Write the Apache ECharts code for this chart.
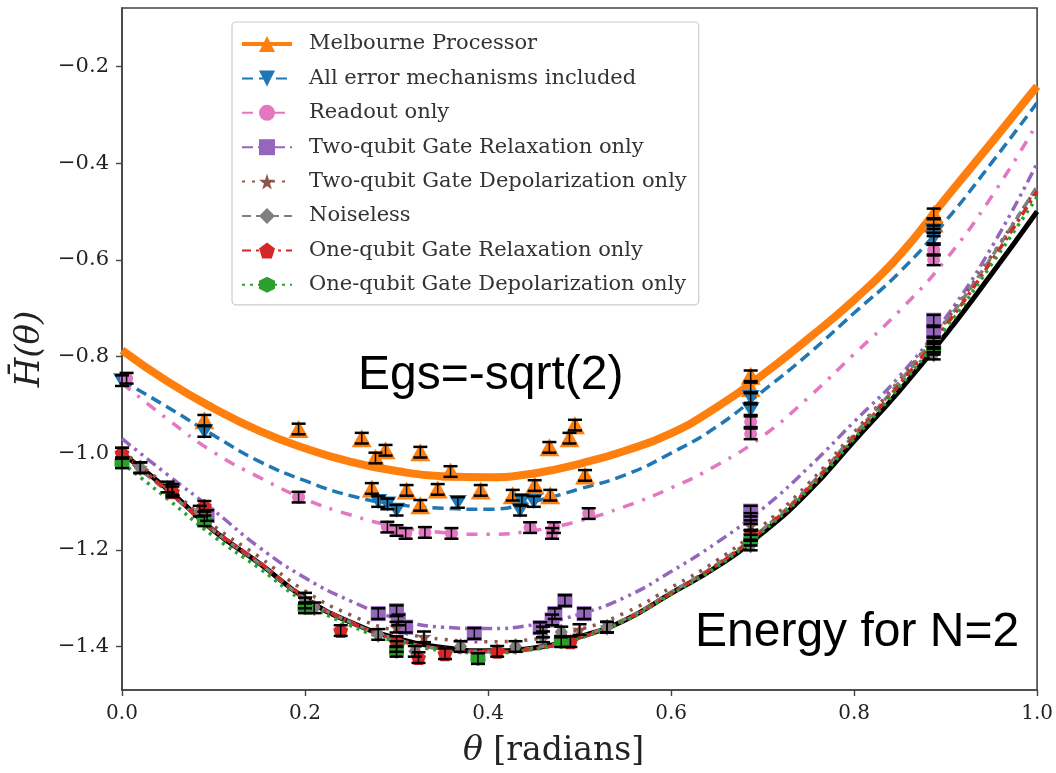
<!DOCTYPE html>
<html>
<head>
<meta charset="utf-8">
<script src="https://cdn.jsdelivr.net/npm/echarts@6/dist/echarts.min.js"></script>
<style>
  html, body { margin: 0; padding: 0; background: #fff; }
  #chart { width: 1056px; height: 773px; }
</style>
</head>
<body>
<div id="chart"></div>
<script>
// theta grid for the fitted curves
const thetaGrid = [0, 0.05, 0.1, 0.15, 0.2, 0.25, 0.3, 0.35, 0.4, 0.45, 0.5, 0.55, 0.6, 0.65, 0.7, 0.75, 0.8, 0.85, 0.9, 0.95, 1.0];

const melbourneCurve = [-0.787, -0.852, -0.907, -0.954, -0.99, -1.018, -1.037, -1.048, -1.05, -1.042, -1.022, -0.995, -0.959, -0.905, -0.838, -0.763, -0.683, -0.59, -0.473, -0.358, -0.241];
const allErrCurve = [-0.85, -0.905, -0.963, -1.017, -1.057, -1.088, -1.106, -1.114, -1.116, -1.1, -1.074, -1.045, -1.0, -0.945, -0.872, -0.795, -0.71, -0.625, -0.52, -0.4, -0.275];
const readoutCurve = [-0.855, -0.93, -0.998, -1.05, -1.095, -1.128, -1.152, -1.164, -1.168, -1.16, -1.14, -1.11, -1.072, -1.025, -0.965, -0.885, -0.795, -0.705, -0.6, -0.47, -0.318];
const twoRelaxCurve = [-0.97, -1.045, -1.118, -1.195, -1.258, -1.306, -1.342, -1.36, -1.363, -1.355, -1.333, -1.298, -1.245, -1.185, -1.115, -1.03, -0.935, -0.84, -0.72, -0.575, -0.4];
const twoDepolCurve = [-0.995, -1.07, -1.15, -1.215, -1.285, -1.335, -1.368, -1.385, -1.39, -1.385, -1.365, -1.33, -1.278, -1.222, -1.15, -1.063, -0.957, -0.848, -0.727, -0.592, -0.45];
const noiselessCurve = [-1.005, -1.08, -1.16, -1.228, -1.3, -1.35, -1.385, -1.405, -1.41, -1.403, -1.38, -1.343, -1.288, -1.23, -1.158, -1.07, -0.962, -0.852, -0.73, -0.595, -0.448];
const oneRelaxCurve = [-0.998, -1.078, -1.158, -1.226, -1.298, -1.35, -1.386, -1.405, -1.411, -1.405, -1.382, -1.345, -1.29, -1.232, -1.16, -1.073, -0.966, -0.857, -0.737, -0.603, -0.458];
const oneDepolCurve = [-1.02, -1.095, -1.172, -1.238, -1.308, -1.357, -1.39, -1.408, -1.413, -1.406, -1.383, -1.346, -1.292, -1.235, -1.162, -1.076, -0.97, -0.862, -0.743, -0.61, -0.47];
const exactCurve = [-1.0, -1.075, -1.16, -1.228, -1.3, -1.35, -1.383, -1.402, -1.409, -1.403, -1.38, -1.345, -1.29, -1.235, -1.165, -1.08, -0.975, -0.87, -0.755, -0.63, -0.5];

// measured points [theta, H]
const melbournePts = [[0.09, -0.932], [0.193, -0.95], [0.262, -0.969], [0.277, -1.01], [0.288, -0.994], [0.326, -0.998], [0.273, -1.073], [0.311, -1.077], [0.326, -1.108], [0.345, -1.075], [0.359, -1.038], [0.392, -1.077], [0.427, -1.087], [0.451, -1.067], [0.468, -1.087], [0.467, -0.988], [0.489, -0.969], [0.495, -0.942], [0.506, -1.046], [0.687, -0.84], [0.687, -0.865], [0.887, -0.505], [0.887, -0.525]];
const allErrPts = [[0.0, -0.85], [0.09, -0.955], [0.28, -1.1], [0.29, -1.105], [0.3, -1.118], [0.367, -1.102], [0.437, -1.098], [0.45, -1.1], [0.435, -1.118], [0.687, -0.885], [0.687, -0.91], [0.887, -0.54], [0.887, -0.555]];
const readoutPts = [[0.005, -0.845], [0.193, -1.091], [0.29, -1.153], [0.3, -1.16], [0.31, -1.166], [0.331, -1.164], [0.36, -1.166], [0.446, -1.154], [0.472, -1.154], [0.47, -1.166], [0.51, -1.125], [0.687, -0.935], [0.687, -0.96], [0.887, -0.58], [0.887, -0.6]];
const twoRelaxPts = [[0.093, -1.129], [0.28, -1.332], [0.3, -1.326], [0.302, -1.345], [0.31, -1.36], [0.385, -1.373], [0.457, -1.361], [0.473, -1.332], [0.484, -1.305], [0.47, -1.345], [0.505, -1.332], [0.687, -1.12], [0.687, -1.135], [0.887, -0.725], [0.887, -0.75]];
const twoDepolPts = [[0.02, -1.03], [0.05, -1.07], [0.2, -1.3], [0.3, -1.36], [0.33, -1.38], [0.46, -1.37], [0.5, -1.365], [0.53, -1.36], [0.687, -1.15], [0.887, -0.77]];
const noiselessPts = [[0.0, -1.0], [0.02, -1.03], [0.055, -1.075], [0.085, -1.12], [0.2, -1.31], [0.21, -1.32], [0.28, -1.375], [0.3, -1.4], [0.32, -1.41], [0.37, -1.4], [0.43, -1.4], [0.46, -1.38], [0.48, -1.37], [0.53, -1.36], [0.687, -1.17], [0.687, -1.19], [0.887, -0.78], [0.887, -0.795]];
const oneRelaxPts = [[0.0, -1.0], [0.055, -1.08], [0.09, -1.11], [0.239, -1.367], [0.3, -1.39], [0.324, -1.423], [0.353, -1.415], [0.41, -1.41], [0.49, -1.39], [0.687, -1.17], [0.887, -0.78]];
const oneDepolPts = [[0.0, -1.02], [0.09, -1.14], [0.2, -1.32], [0.3, -1.41], [0.389, -1.425], [0.48, -1.39], [0.687, -1.18], [0.887, -0.785]];

const errHalf = 0.011;

const yTicks = [-1.4, -1.2, -1.0, -0.8, -0.6, -0.4, -0.2];

const legendNames = [
  'Melbourne Processor',
  'All error mechanisms included',
  'Readout only',
  'Two-qubit Gate Relaxation only',
  'Two-qubit Gate Depolarization only',
  'Noiseless',
  'One-qubit Gate Relaxation only',
  'One-qubit Gate Depolarization only'
];

const SYM = {
  up: 'triangle',
  down: 'path://M0,0 L100,0 L50,100 Z',
  star: 'path://M50,0 L61,35 L98,35 L68,57 L79,91 L50,70 L21,91 L32,57 L2,35 L39,35 Z',
  diamond: 'path://M50,0 L78,50 L50,100 L22,50 Z',
  pentagon: 'path://M50,0 L98,35 L79,91 L21,91 L2,35 Z',
  hexagon: 'path://M50,0 L93,25 L93,75 L50,100 L7,75 L7,25 Z'
};

const styles = [
  { curve: melbourneCurve, pts: melbournePts, color: '#ff7f0e', width: 8, type: 'solid', symbol: SYM.up, size: [20, 18] },
  { curve: allErrCurve, pts: allErrPts, color: '#1f77b4', width: 3.5, type: [11, 6], symbol: SYM.down, size: [18, 15] },
  { curve: readoutCurve, pts: readoutPts, color: '#e377c2', width: 3.5, type: [11, 9, 3, 9], symbol: 'circle', size: 13 },
  { curve: twoRelaxCurve, pts: twoRelaxPts, color: '#9467bd', width: 3.5, type: [11, 5, 3, 5, 3, 5], symbol: 'rect', size: 15 },
  { curve: twoDepolCurve, pts: twoDepolPts, color: '#8c564b', width: 3.5, type: [3, 7], symbol: SYM.star, size: 15 },
  { curve: noiselessCurve, pts: noiselessPts, color: '#7f7f7f', width: 3.5, type: [9, 5], symbol: SYM.diamond, size: [13, 17] },
  { curve: oneRelaxCurve, pts: oneRelaxPts, color: '#d62728', width: 3.5, type: [9, 5, 3, 5], symbol: SYM.pentagon, size: 15 },
  { curve: oneDepolCurve, pts: oneDepolPts, color: '#2ca02c', width: 3.5, type: [3, 5], symbol: SYM.hexagon, size: 15 }
];

const chart = echarts.init(document.getElementById('chart'));

const series = [];

series.push({
  name: 'exact',
  type: 'line',
  data: thetaGrid.map((t, i) => [t, exactCurve[i]]),
  smooth: true,
  showSymbol: false,
  lineStyle: { color: '#000', width: 5 },
  z: 2,
  silent: true
});

styles.forEach((s, k) => {
  series.push({
    name: legendNames[k],
    type: 'line',
    data: thetaGrid.map((t, i) => [t, s.curve[i]]),
    smooth: true,
    showSymbol: false,
    symbol: s.symbol,
    symbolSize: s.size,
    itemStyle: { color: s.color },
    lineStyle: { color: s.color, width: s.width, type: s.type },
    z: 3,
    silent: true
  });
});

styles.forEach((s, k) => {
  series.push({
    name: 'pts-' + k,
    type: 'scatter',
    data: s.pts,
    symbol: s.symbol,
    symbolSize: s.size,
    itemStyle: { color: s.color, opacity: 1 },
    z: 4,
    silent: true
  });
});

// black error bars with caps
const errData = [];
styles.forEach(s => s.pts.forEach(p => errData.push([p[0], p[1], errHalf])));
series.push({
  name: 'errors',
  type: 'custom',
  data: errData,
  z: 5,
  silent: true,
  renderItem: function (params, api) {
    const x = api.value(0), y = api.value(1), e = api.value(2);
    const top = api.coord([x, y + e]);
    const bot = api.coord([x, y - e]);
    const hw = 7;
    const st = { stroke: '#000', lineWidth: 2.5 };
    return {
      type: 'group',
      children: [
        { type: 'line', shape: { x1: top[0], y1: top[1], x2: bot[0], y2: bot[1] }, style: { stroke: '#000', lineWidth: 1.5 } },
        { type: 'line', shape: { x1: top[0] - hw, y1: top[1], x2: top[0] + hw, y2: top[1] }, style: st },
        { type: 'line', shape: { x1: bot[0] - hw, y1: bot[1], x2: bot[0] + hw, y2: bot[1] }, style: st }
      ]
    };
  }
});

const minus = v => v.toFixed(1).replace('-', '\u2212');
const serif = 'DejaVu Serif';

const option = {
  animation: false,
  backgroundColor: '#fff',
  grid: {
    left: 122, right: 12, top: 8, bottom: 83,
    show: true, borderColor: '#444', borderWidth: 1.6, backgroundColor: 'transparent'
  },
  legend: {
    data: legendNames.map((n, k) => k === 0 ? { name: n, lineStyle: { width: 4 } } : n),
    orient: 'vertical',
    left: 232,
    top: 22,
    padding: [10, 12, 8, 8],
    itemGap: 10.4,
    itemWidth: 50,
    itemHeight: 20,
    backgroundColor: 'rgba(255,255,255,0.85)',
    borderColor: '#cccccc',
    borderWidth: 1.2,
    borderRadius: 4,
    selectedMode: false,
    textStyle: {
      fontFamily: serif, fontSize: 21, color: '#333', lineHeight: 24,
      padding: [0, 0, 0, 12]
    }
  },
  xAxis: {
    type: 'value',
    min: 0, max: 1, interval: 0.2,
    name: '{i|θ} [radians]',
    nameLocation: 'middle',
    nameGap: 45,
    nameTextStyle: {
      fontFamily: serif, fontSize: 33, color: '#222', padding: [0, 52, 0, 0],
      rich: { i: { fontFamily: serif, fontStyle: 'italic', fontSize: 33, color: '#222' } }
    },
    axisLine: { show: true, lineStyle: { color: '#444', width: 1.6 } },
    axisTick: { show: true, length: 6, lineStyle: { color: '#444', width: 1.4 } },
    axisLabel: { formatter: v => v.toFixed(1), fontFamily: serif, fontSize: 20, color: '#222', margin: 14 },
    splitLine: { show: false }
  },
  yAxis: {
    type: 'value',
    min: -1.49, max: -0.079,
    name: 'H\u0304(θ)',
    nameLocation: 'middle',
    nameGap: 68,
    nameRotate: 90,
    nameTextStyle: { fontFamily: serif, fontStyle: 'italic', fontSize: 34, color: '#222' },
    axisLine: { show: true, lineStyle: { color: '#444', width: 1.6 } },
    axisTick: { show: true, length: 6, customValues: yTicks, lineStyle: { color: '#444', width: 1.4 } },
    axisLabel: { customValues: yTicks, formatter: minus, fontFamily: serif, fontSize: 21, color: '#222', margin: 13 },
    splitLine: { show: false }
  },
  graphic: [
    {
      type: 'text', left: 358, top: 352, z: 20,
      style: { text: 'Egs=-sqrt(2)', font: '48px "Liberation Sans", Arial, sans-serif', fill: '#000' }
    },
    {
      type: 'text', left: 695, top: 609, z: 20,
      style: { text: 'Energy for N=2', font: '48px "Liberation Sans", Arial, sans-serif', fill: '#000' }
    }
  ],
  series: series
};

chart.setOption(option);
</script>
</body>
</html>
